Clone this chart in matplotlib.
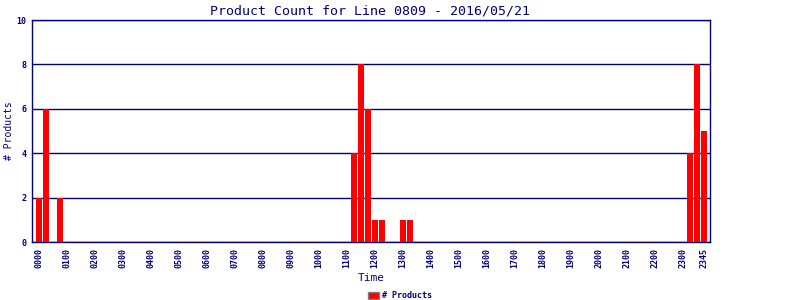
import matplotlib
matplotlib.use("Agg")
import matplotlib.pyplot as plt
from matplotlib.patches import Patch

# 15-minute slots 0000..2345
slot_labels = ["%02d%02d" % (h, m) for h in range(24) for m in (0, 15, 30, 45)]
counts = {
    "0000": 2, "0015": 6, "0045": 2,
    "1115": 4, "1130": 8, "1145": 6, "1200": 1, "1215": 1,
    "1300": 1, "1315": 1,
    "2315": 4, "2330": 8, "2345": 5,
}
values = [counts.get(s, 0) for s in slot_labels]
tick_labels = ["%02d00" % h for h in range(24)] + ["2345"]
title = "Product Count for Line 0809 - 2016/05/21"

navy = "#000080"
mono = "DejaVu Sans Mono"

fig = plt.figure(figsize=(8, 3), dpi=100)
ax = fig.add_axes([0.04, 0.1933, 0.8475, 0.74])

x = list(range(len(slot_labels)))
ax.bar(x, values, width=0.86, color="#ff0000", zorder=3)

ax.set_xlim(-1.0, 95.86)
ax.set_ylim(0, 10)
ax.set_yticks([0, 2, 4, 6, 8, 10])
ax.yaxis.grid(True, color=navy, linewidth=1.0, zorder=1)
ax.tick_params(axis="y", length=0, labelsize=6, labelcolor=navy, pad=4)
for t in ax.get_yticklabels():
    t.set_fontfamily(mono)
    t.set_fontweight("bold")

tick_pos = [slot_labels.index(t) for t in tick_labels]
ax.set_xticks(tick_pos)
ax.set_xticklabels(tick_labels, rotation=90, fontsize=6, color=navy,
                   fontfamily=mono, fontweight="bold")
ax.tick_params(axis="x", length=0, pad=4)

for sp in ax.spines.values():
    sp.set_color(navy)
    sp.set_linewidth(1.0)

fig.text(0.4625, 0.965, title, ha="center", va="center", fontsize=9.5,
         color=navy, fontfamily=mono)
ax.set_xlabel("Time", fontsize=8, color=navy, fontfamily=mono, labelpad=4)
fig.text(0.011, 0.5633, "# Products", rotation=90, ha="center", va="center",
         fontsize=7, color=navy, fontfamily=mono)

handles = [Patch(facecolor="#ff0000", edgecolor="#808080", linewidth=1)]
leg = fig.legend(handles, ["# Products"], loc="lower center",
                 bbox_to_anchor=(0.5, -0.025), frameon=False,
                 prop={"family": mono, "size": 6, "weight": "bold"},
                 handlelength=1.3, handleheight=0.9, handletextpad=0.3)
for t in leg.get_texts():
    t.set_color(navy)

fig.savefig("out.png", dpi=100)
